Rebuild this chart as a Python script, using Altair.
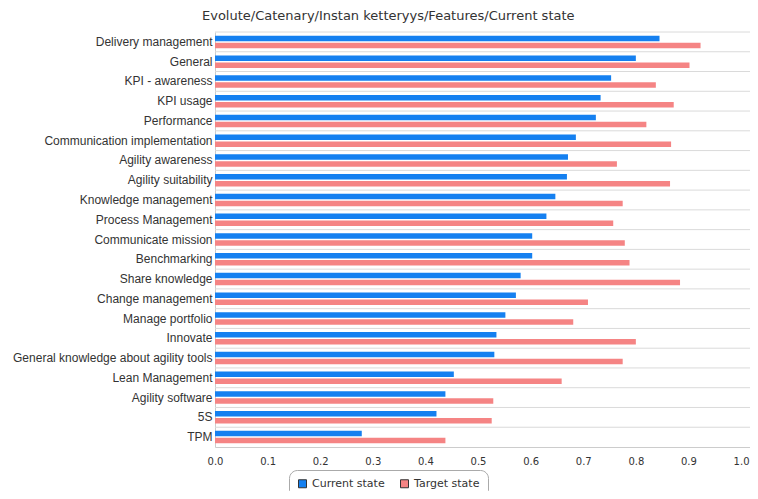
import altair as alt
import pandas as pd

categories = [
    "Delivery management", "General", "KPI - awareness", "KPI usage", "Performance",
    "Communication implementation", "Agility awareness", "Agility suitability",
    "Knowledge management", "Process Management", "Communicate mission",
    "Benchmarking", "Share knowledge", "Change management", "Manage portfolio",
    "Innovate", "General knowledge about agility tools", "Lean Management",
    "Agility software", "5S", "TPM",
]
current = [0.845, 0.800, 0.753, 0.733, 0.724, 0.686, 0.671, 0.669, 0.647, 0.630, 0.603,
           0.603, 0.581, 0.572, 0.552, 0.535, 0.531, 0.454, 0.438, 0.421, 0.279]
target = [0.923, 0.902, 0.838, 0.872, 0.820, 0.867, 0.764, 0.865, 0.775, 0.757, 0.779,
          0.788, 0.884, 0.709, 0.681, 0.800, 0.775, 0.659, 0.529, 0.526, 0.438]
series = ["Current state", "Target state"]
colors = ["#1580f0", "#f58484"]
x_ticks = [0.0, 0.1, 0.2, 0.3, 0.4, 0.5, 0.6, 0.7, 0.8, 0.9, 1.0]
title_text = "Evolute/Catenary/Instan ketteryys/Features/Current state"

rows = []
for c, cu, ta in zip(categories, current, target):
    rows.append({"cat": c, "series": series[0], "value": cu})
    rows.append({"cat": c, "series": series[1], "value": ta})
df = pd.DataFrame(rows)
grid_df = pd.DataFrame({"cat": categories})

y_scale = alt.Scale(domain=categories, paddingInner=0, paddingOuter=0)
y_axis = alt.Axis(ticks=False, labelPadding=3, domainColor="#cccccc",
                  labelFont="Liberation Sans", labelFontSize=12,
                  labelColor="#333333", labelLimit=400, grid=False)

grid = alt.Chart(grid_df).mark_rule(color="#dadada", strokeWidth=1).encode(
    y=alt.Y("cat:N", scale=y_scale, bandPosition=0, title=None, axis=y_axis)
)

bars = alt.Chart(df).mark_bar().encode(
    y=alt.Y("cat:N", scale=y_scale, title=None, axis=y_axis),
    yOffset=alt.YOffset("series:N", scale=alt.Scale(domain=series, paddingInner=0.214, paddingOuter=0.518)),
    x=alt.X("value:Q", scale=alt.Scale(domain=[0, 1.017], nice=False), title=None,
            axis=alt.Axis(values=x_ticks, format=".1f", grid=False, ticks=False,
                          labelPadding=9, domainColor="#cccccc",
                          labelFont="DejaVu Sans", labelFontSize=10,
                          labelColor="#333333", labelFlush=False)),
    color=alt.Color("series:N", scale=alt.Scale(domain=series, range=colors),
                    legend=alt.Legend(title=None, orient="none", legendX=74, legendY=438,
                                      direction="horizontal", columns=2, columnPadding=13,
                                      padding=8, strokeColor="#aaaaaa", cornerRadius=8,
                                      symbolType="square", symbolSize=64,
                                      symbolStrokeColor="#333333", symbolStrokeWidth=1,
                                      labelFont="DejaVu Sans", labelFontSize=11,
                                      labelColor="#333333")),
)

chart = alt.layer(grid, bars).properties(
    width=535, height=415,
    autosize=alt.AutoSizeParams(type="none"),
    padding={"left": 207, "top": 24, "right": 0, "bottom": 44},
    title=alt.TitleParams(text=title_text, anchor="start", frame="group", dx=-13, offset=9,
                          font="DejaVu Sans", fontSize=13, fontWeight="normal",
                          color="#333333"),
).configure_view(strokeWidth=0)

chart.save("out.html", embed_options={"renderer": "svg", "actions": False})
